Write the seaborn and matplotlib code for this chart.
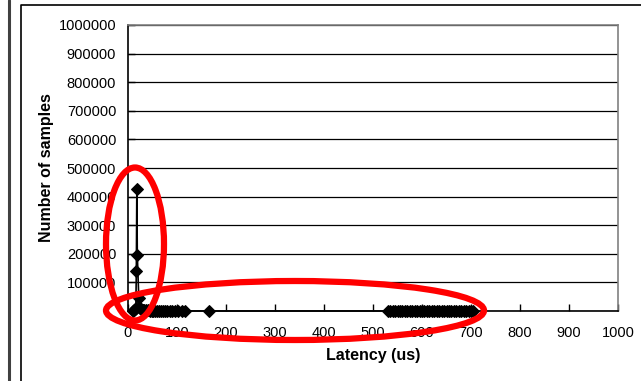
import matplotlib
matplotlib.use("Agg")
import matplotlib.pyplot as plt
import seaborn as sns
import pandas as pd
from matplotlib.patches import Ellipse
from matplotlib.lines import Line2D

# Latency histogram points (us, number of samples)
latency_us = [10, 12, 14, 16, 17, 18, 19, 22, 24, 26, 28, 30, 33, 36, 40, 44, 48,
              52, 56, 60, 64, 68, 72, 76, 80, 85, 90, 96, 103, 110, 116, 166,
              530, 535, 540, 545, 550, 555, 560, 565, 570, 575, 580, 585, 590,
              595, 600, 605, 610, 615, 620, 625, 630, 635, 640, 645, 650, 655,
              660, 665, 670, 675, 680, 685, 690, 695, 700, 705]
samples = [1200, 3500, 6000, 9000, 141000, 425000, 196000, 45000, 9000, 6000,
           4000, 3000, 2500, 2000, 1800, 1500, 1200, 1000, 900, 800, 700, 600,
           500, 450, 400, 350, 300, 250, 200, 150, 100, 50,
           5, 8, 12, 20, 30, 45, 60, 80, 90, 100, 110, 120, 120, 110, 100, 95,
           90, 80, 70, 60, 55, 50, 45, 40, 35, 30, 25, 20, 15, 12, 10, 8, 6,
           4, 3, 2]

x_ticks = [0, 100, 200, 300, 400, 500, 600, 700, 800, 900, 1000]
y_ticks = [0, 100000, 200000, 300000, 400000, 500000, 600000, 700000, 800000,
           900000, 1000000]
# the "0" label is hidden under the red highlight in the original
y_tick_labels = ["", "100000", "200000", "300000", "400000", "500000",
                 "600000", "700000", "800000", "900000", "1000000"]

df = pd.DataFrame({"Latency": latency_us, "Samples": samples})

sns.set_theme(style="white")
plt.rcParams["font.family"] = ["Liberation Sans", "DejaVu Sans"]

W, H = 641, 381
fig = plt.figure(figsize=(W / 100, H / 100), dpi=100)
ax = fig.add_axes([128 / W, 1 - 311 / H, 490 / W, 286 / H])

sns.lineplot(data=df, x="Latency", y="Samples", sort=False, estimator=None,
             color="black", marker="D", markersize=6, markeredgecolor="black",
             linewidth=1.2, legend=False, ax=ax, clip_on=False, zorder=5)

ax.set_xlim(0, 1000)
ax.set_ylim(0, 1000000)
ax.set_xticks(x_ticks)
ax.set_yticks(y_ticks, labels=y_tick_labels)
ax.tick_params(axis="both", direction="in", length=5, width=1, color="black",
               labelsize=10.5, labelcolor="black", bottom=True, left=True)
ax.tick_params(axis="y", pad=8.5)
ax.tick_params(axis="x", pad=11)
ax.yaxis.grid(True, color="black", linewidth=0.9)
ax.xaxis.grid(False)
ax.set_axisbelow(True)

for side in ["left", "bottom"]:
    ax.spines[side].set_color("black")
    ax.spines[side].set_linewidth(1.2)
for side in ["top", "right"]:
    ax.spines[side].set_color("#808080")
    ax.spines[side].set_linewidth(1.2)

ax.set_xlabel("Latency (us)", fontsize=11.5, fontweight="bold", color="black")
ax.set_ylabel("Number of samples", fontsize=11.5, fontweight="bold", color="black")
ax.xaxis.set_label_coords(0.5, (311 - 348) / 286)
ax.yaxis.set_label_coords((54 - 128) / 490, 0.5)

# frame lines around the chart object
fig.add_artist(Line2D([9 / W, 9 / W], [0, 1], color="#404040", linewidth=2.2,
                      transform=fig.transFigure))
fig.add_artist(Line2D([20.5 / W, 20.5 / W, 1], [0, 1 - 5 / H, 1 - 5 / H],
                      color="black", linewidth=1.2, transform=fig.transFigure))

# red highlight ellipses
fig.add_artist(Ellipse((135 / W, 1 - 244 / H), 58 / W, 153 / H, fill=False,
                       edgecolor="#ff0000", linewidth=4.5,
                       transform=fig.transFigure, zorder=10))
fig.add_artist(Ellipse((295 / W, 1 - 310.5 / H), 378 / W, 59 / H, fill=False,
                       edgecolor="#ff0000", linewidth=4.5,
                       transform=fig.transFigure, zorder=10))

fig.savefig("out.png", dpi=100, facecolor="white")
